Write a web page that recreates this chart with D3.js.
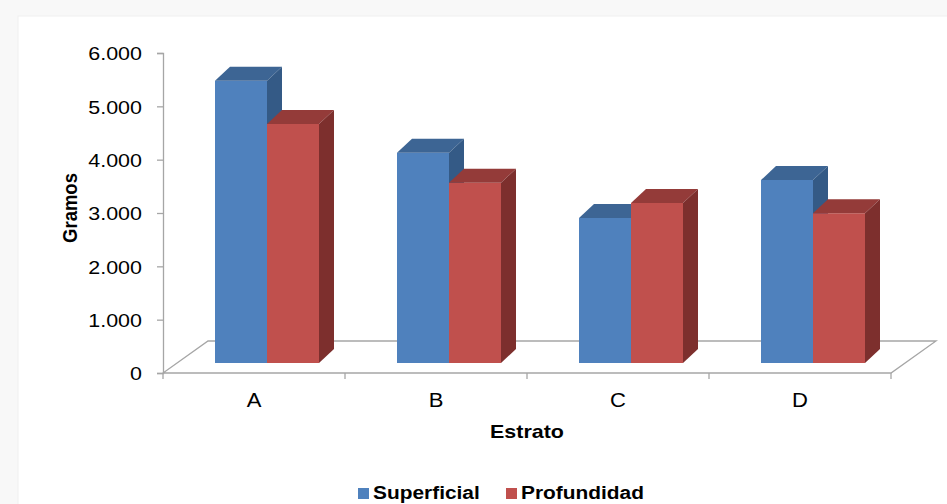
<!DOCTYPE html>
<html>
<head>
<meta charset="utf-8">
<script src="https://cdn.jsdelivr.net/npm/d3@7"></script>
<style>
  html, body { margin: 0; padding: 0; background: #f8f8f8; }
  svg { display: block; font-family: "Liberation Sans", Arial, sans-serif; }
</style>
</head>
<body>
<svg id="chart" width="947" height="504"></svg>
<script>
// Data: mass (grams) per stratum, surface vs deep samples
const categories = ["A", "B", "C", "D"];
const seriesNames = ["Superficial", "Profundidad"];
const superficial = [5290, 3940, 2720, 3430];
const profundidad = [4480, 3380, 3000, 2810];
const yTickValues = [0, 1000, 2000, 3000, 4000, 5000, 6000];

const seriesValues = [superficial, profundidad];
const frontColors = ["#4f81bd", "#c0504d"];
const topColors = ["#3d6594", "#943b39"];
const sideColors = ["#345a86", "#7d2f2d"];

const TEXT_SX = 1.13; // glyphs are drawn slightly wide

const svg = d3.select("#chart");

// chart frame
svg.append("rect")
  .attr("x", 18).attr("y", 16).attr("width", 935).attr("height", 495)
  .attr("fill", "#ffffff").attr("stroke", "#efefef");

// plot geometry
const plotLeft = 163, plotRight = 891, plotBase = 373, plotTop = 53;
const floorDx = 45, floorDy = -32;     // floor depth
const faceDx = 13, faceDy = -10;       // bar front plane
const barDx = 15, barDy = -14;         // bar depth

const x = d3.scaleBand().domain(categories).range([plotLeft, plotRight]).padding(0);
const y = d3.scaleLinear().domain([0, 6000]).range([plotBase, plotTop]);
const pairWidth = 104;
const xs = d3.scaleBand().domain(seriesNames).range([0, pairWidth]).padding(0);

const fmt = d3.formatLocale({decimal: ",", thousands: ".", grouping: [3], currency: ["", ""]}).format(",");

// floor
const floorPts = [[plotLeft, plotBase], [plotRight, plotBase],
  [plotRight + floorDx, plotBase + floorDy], [plotLeft + floorDx, plotBase + floorDy]];
svg.append("polygon")
  .attr("points", floorPts.map(p => p.join(",")).join(" "))
  .attr("fill", "#ffffff")
  .attr("stroke", "#a6a6a6").attr("stroke-width", 1.3);

// value axis
const yAxis = d3.axisLeft(y).tickValues(yTickValues).tickSize(6).tickFormat(fmt);
const gy = svg.append("g").attr("transform", `translate(${plotLeft},0)`).call(yAxis);
gy.select(".domain").attr("stroke", "#a6a6a6").attr("stroke-width", 1.3);
gy.selectAll(".tick line").attr("stroke", "#a6a6a6").attr("stroke-width", 1.3);
gy.selectAll(".tick text")
  .attr("font-size", 19).attr("fill", "#000")
  .attr("font-family", "'Liberation Sans', Arial, sans-serif")
  .attr("x", -21 / TEXT_SX)
  .attr("dy", "0.36em")
  .attr("transform", `scale(${TEXT_SX},1)`);

// category axis: labels at band centres, ticks at band edges
const xAxis = d3.axisBottom(x).tickSize(0).tickPadding(0);
const gx = svg.append("g").attr("transform", `translate(0,${plotBase})`).call(xAxis);
gx.select(".domain").remove();
gx.selectAll(".tick text")
  .attr("font-size", 19.5).attr("fill", "#000")
  .attr("font-family", "'Liberation Sans', Arial, sans-serif")
  .attr("y", 34).attr("dy", 0)
  .attr("transform", `scale(${TEXT_SX},1)`);
const edges = categories.map(c => x(c)).concat([plotRight]);
svg.append("g").selectAll("line").data(edges).join("line")
  .attr("x1", d => d).attr("x2", d => d)
  .attr("y1", plotBase).attr("y2", plotBase + 6)
  .attr("stroke", "#a6a6a6").attr("stroke-width", 1.3);

// 3D bars
const bars = [];
categories.forEach((c, i) => {
  seriesNames.forEach((s, j) => {
    bars.push({cat: c, series: s, j: j, value: seriesValues[j][i]});
  });
});

const gBars = svg.append("g");
bars.forEach(d => {
  const x0 = x(d.cat) + x.bandwidth() / 2 - pairWidth / 2 + faceDx + xs(d.series);
  const x1 = x0 + xs.bandwidth();
  const y0 = y(0) + faceDy;
  const y1 = y(d.value) + faceDy;
  const g = gBars.append("g");
  g.append("polygon")
    .attr("points", [[x0, y0], [x1, y0], [x1, y1], [x0, y1]].map(p => p.join(",")).join(" "))
    .attr("fill", frontColors[d.j]);
  g.append("polygon")
    .attr("points", [[x0, y1], [x1, y1], [x1 + barDx, y1 + barDy], [x0 + barDx, y1 + barDy]].map(p => p.join(",")).join(" "))
    .attr("fill", topColors[d.j]);
  g.append("polygon")
    .attr("points", [[x1, y0], [x1 + barDx, y0 + barDy], [x1 + barDx, y1 + barDy], [x1, y1]].map(p => p.join(",")).join(" "))
    .attr("fill", sideColors[d.j]);
});

// axis titles
svg.append("text")
  .attr("transform", `translate(77,208) scale(${TEXT_SX},1) rotate(-90)`)
  .attr("text-anchor", "middle")
  .attr("font-size", 18.5).attr("font-weight", "bold")
  .text("Gramos");

svg.append("text")
  .attr("transform", `translate(527,438) scale(${TEXT_SX},1)`)
  .attr("text-anchor", "middle")
  .attr("font-size", 19).attr("font-weight", "bold")
  .text("Estrato");

// legend
const legendItems = [
  {name: seriesNames[0], color: frontColors[0], x: 358},
  {name: seriesNames[1], color: frontColors[1], x: 506}
];
const gl = svg.append("g");
legendItems.forEach(it => {
  gl.append("rect")
    .attr("x", it.x).attr("y", 488).attr("width", 11).attr("height", 11)
    .attr("fill", it.color);
  gl.append("text")
    .attr("transform", `translate(${it.x + 15},499) scale(${TEXT_SX},1)`)
    .attr("font-size", 18.5).attr("font-weight", "bold")
    .text(it.name);
});
</script>
</body>
</html>
